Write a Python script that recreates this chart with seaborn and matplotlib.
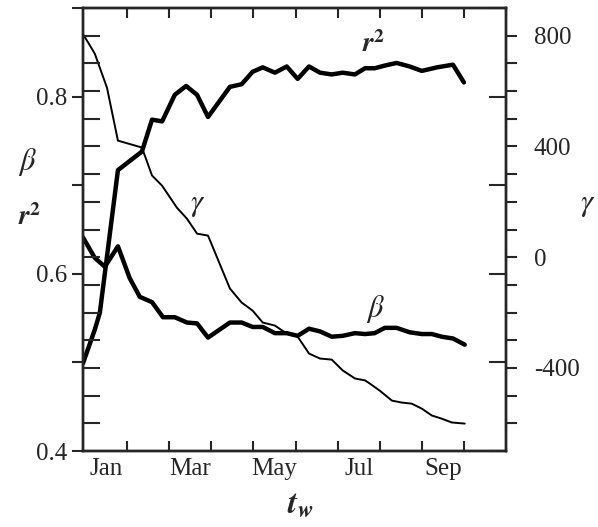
import matplotlib
matplotlib.use("Agg")
import matplotlib.pyplot as plt
import seaborn as sns

# time axis in months (0 = start of Jan)
r2_months = [-0.05, 0.23, 0.35, 0.78, 1.35, 1.59, 1.83, 2.13, 2.40, 2.66, 2.92, 3.44,
             3.72, 3.98, 4.22, 4.51, 4.79, 5.05, 5.32, 5.58, 5.86, 6.12, 6.41, 6.65,
             6.88, 7.12, 7.40, 7.71, 8.00, 8.36, 8.74, 9.00]
r2 = [0.499, 0.537, 0.556, 0.717, 0.738, 0.774, 0.772, 0.802, 0.812, 0.802, 0.777, 0.811,
      0.814, 0.828, 0.833, 0.827, 0.834, 0.820, 0.834, 0.827, 0.825, 0.827, 0.825, 0.832,
      0.832, 0.835, 0.838, 0.834, 0.829, 0.833, 0.836, 0.816]

beta_months = [-0.05, 0.23, 0.47, 0.78, 1.06, 1.30, 1.59, 1.85, 2.13, 2.42, 2.66, 2.92,
               3.44, 3.72, 3.98, 4.22, 4.51, 4.79, 5.05, 5.32, 5.58, 5.86, 6.12, 6.41,
               6.65, 6.88, 7.12, 7.40, 7.71, 8.00, 8.24, 8.47, 8.74, 9.02]
beta = [0.641, 0.618, 0.608, 0.631, 0.595, 0.574, 0.568, 0.551, 0.551, 0.545, 0.544, 0.528,
        0.545, 0.545, 0.540, 0.540, 0.533, 0.533, 0.530, 0.538, 0.535, 0.529, 0.530, 0.533,
        0.532, 0.533, 0.539, 0.539, 0.534, 0.532, 0.532, 0.529, 0.527, 0.520]

gamma_months = [-0.05, 0.09, 0.23, 0.52, 0.78, 1.35, 1.59, 1.83, 2.18, 2.42, 2.66, 2.92,
                3.44, 3.72, 3.98, 4.22, 4.51, 4.79, 5.05, 5.32, 5.58, 5.86, 6.12, 6.41,
                6.65, 6.76, 7.00, 7.29, 7.52, 7.76, 8.00, 8.24, 8.47, 8.71, 9.02]
gamma = [805, 771, 735, 612, 421, 396, 295, 258, 179, 139, 85, 78,
         -113, -164, -193, -236, -247, -276, -287, -348, -366, -370, -409, -438,
         -445, -456, -482, -518, -525, -529, -547, -572, -583, -597, -601]

month_labels = ["Jan", "Mar", "May", "Jul", "Sep"]
month_label_pos = [0.5, 2.5, 4.5, 6.5, 8.5]
month_ticks = [1, 2, 3, 4, 5, 6, 7, 8, 9]
left_ticks = [0.4, 0.5, 0.6, 0.7, 0.8, 0.9]
left_labels = ["0.4", "", "0.6", "", "0.8", ""]
gamma_ticks = list(range(-600, 801, 100))
gamma_labels = [str(t) if t in (-400, 0, 400, 800) else "" for t in gamma_ticks]

sns.set_style("ticks")
plt.rcParams["font.family"] = ["Liberation Serif", "DejaVu Serif"]
plt.rcParams["mathtext.fontset"] = "stix"
plt.rcParams["axes.unicode_minus"] = False
plt.rcParams["axes.linewidth"] = 1.6

fig = plt.figure(figsize=(5.98, 5.27), dpi=100)
ax = fig.add_axes([83 / 598, 76 / 527, 423 / 598, 443 / 527])

sns.lineplot(x=r2_months, y=r2, ax=ax, color="black", lw=3.2, estimator=None, sort=False)
sns.lineplot(x=beta_months, y=beta, ax=ax, color="black", lw=3.2, estimator=None, sort=False)
ax.set_xlim(-0.05, 10.0)
ax.set_ylim(0.4, 0.9)
ax.set_yticks(left_ticks)
ax.set_yticklabels(left_labels)
ax.tick_params(axis="y", direction="out", length=8, width=1.5, labelsize=18, pad=3)
ax.set_xticks(month_ticks)
ax.set_xticklabels([])
ax.set_xticks(month_label_pos, minor=True)
ax.set_xticklabels(month_labels, minor=True)
ax.tick_params(axis="x", which="major", direction="in", top=True, length=7, width=1.5)
ax.tick_params(axis="x", which="minor", length=0, labelsize=18, pad=5)

# gamma on the right
axg = ax.twinx()
sns.lineplot(x=gamma_months, y=gamma, ax=axg, color="black", lw=1.4, estimator=None, sort=False)
axg.set_ylim(-700, 900)
axg.set_yticks(gamma_ticks)
axg.set_yticklabels(gamma_labels)
axg.tick_params(axis="y", direction="out", length=8, width=1.5, labelsize=18, pad=12)

# mirrored inward ticks
axm = ax.twinx()
axm.set_ylim(0.4, 0.9)
axm.set_yticks(left_ticks)
axm.tick_params(axis="y", direction="in", length=12, width=1.5, labelright=False)

axgm = ax.twinx()
axgm.set_ylim(-700, 900)
axgm.yaxis.tick_left()
axgm.set_yticks(gamma_ticks)
axgm.tick_params(axis="y", direction="in", length=12, width=1.5, labelleft=False)

for a in (ax, axg, axm, axgm):
    a.set_xlabel("")
    a.set_ylabel("")
    for s in a.spines.values():
        s.set_linewidth(1.6)

# curve labels
ax.text(6.86, 0.859, r"$\mathbfit{r}^{\mathbf{2}}$", fontsize=20, ha="center", va="center")
ax.text(2.68, 0.678, r"$\gamma$", fontsize=22, ha="center", va="center")
ax.text(6.90, 0.560, r"$\beta$", fontsize=22, ha="center", va="center")

# axis labels
fig.text(27 / 598, 1 - 162 / 527, r"$\beta$", fontsize=22, ha="center", va="center")
fig.text(30 / 598, 1 - 218 / 527, r"$\mathbfit{r}^{\mathbf{2}}$", fontsize=20, ha="center", va="center")
fig.text(588 / 598, 1 - 205 / 527, r"$\gamma$", fontsize=22, ha="center", va="center")
fig.text(300 / 598, 1 - 505 / 527, r"$\mathbfit{t}_{\mathbfit{w}}$", fontsize=24, ha="center", va="center")

fig.savefig("out.png", dpi=100)
